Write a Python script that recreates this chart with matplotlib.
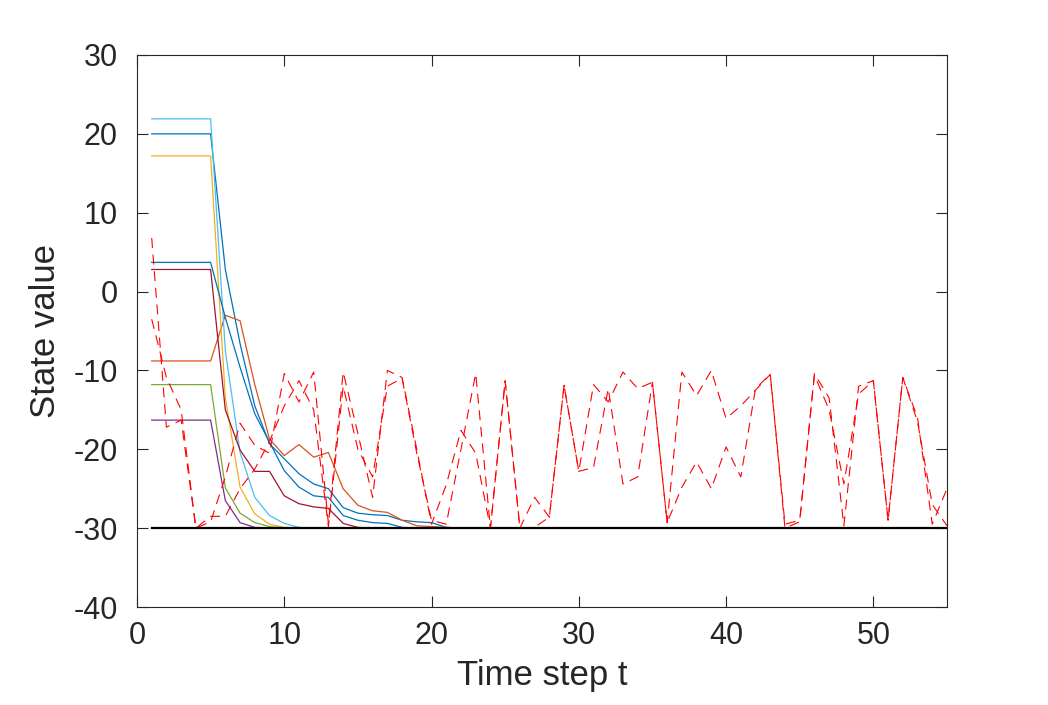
import matplotlib
matplotlib.use("Agg")
import matplotlib.pyplot as plt
import numpy as np

plt.rcParams['font.family'] = ['Liberation Sans', 'DejaVu Sans']
plt.rcParams['axes.unicode_minus'] = False

t = np.arange(1, 56)

# Normal agents (solid), values at t = 1..22 then settle at -30
blue_a = [20.0]*5 + [2.8, -6.6, -14.5, -19.3, -21.2, -23.1, -24.4, -25.0, -27.4, -28.1, -28.3, -28.4, -29.0, -29.2, -29.3, -29.9, -30.0]
orange = [-8.8]*5 + [-3.0, -3.7, -11.8, -18.7, -20.8, -19.4, -21.0, -20.4, -25.0, -27.1, -27.8, -28.0, -29.0, -29.7, -29.8, -29.9, -30.0]
yellow = [17.2]*5 + [-13.5, -24.8, -28.2, -29.5, -29.9, -30.0, -30.0, -30.0, -30.0, -30.0, -30.0, -30.0, -30.0, -30.0, -30.0, -30.0, -30.0]
purple = [-16.3]*5 + [-26.5, -29.3, -29.9, -30.0, -30.0, -30.0, -30.0, -30.0, -30.0, -30.0, -30.0, -30.0, -30.0, -30.0, -30.0, -30.0, -30.0]
green = [-11.8]*5 + [-24.9, -28.1, -29.3, -29.8, -30.0, -30.0, -30.0, -30.0, -30.0, -30.0, -30.0, -30.0, -30.0, -30.0, -30.0, -30.0, -30.0]
lightblue = [21.9]*5 + [-7.5, -20.4, -26.1, -28.4, -29.4, -29.9, -30.0, -30.0, -30.0, -30.0, -30.0, -30.0, -30.0, -30.0, -30.0, -30.0, -30.0]
darkred = [2.8]*5 + [-15.0, -20.1, -22.8, -22.8, -25.9, -26.9, -27.3, -27.5, -29.4, -29.9, -30.0, -30.0, -30.0, -30.0, -30.0, -30.0, -30.0]
blue_b = [3.7]*5 + [-3.3, -9.6, -15.5, -19.1, -22.7, -24.8, -25.9, -26.1, -28.4, -29.0, -29.3, -29.4, -29.9, -30.0, -30.0, -30.0, -30.0]

# Malicious agents (red dashed), t = 1..55
mal_a = [6.8, -17.2, -16.3, -30.0, -29.2, -23.5, -16.7, -19.5, -20.5, -10.4,
         -14.0, -10.2, -29.5, -10.2, -18.0, -26.1, -10.0, -10.9, -20.0, -29.5,
         -24.5, -17.6, -20.5, -30.0, -11.3, -30.0, -26.1, -28.6, -11.9, -22.8,
         -11.8, -14.0, -10.2, -12.3, -11.5, -29.3, -10.2, -13.2, -10.0, -16.1,
         -14.5, -12.5, -10.5, -30.0, -29.2, -10.4, -13.5, -29.7, -12.0, -11.3,
         -29.0, -10.9, -16.0, -29.5, -25.0]
mal_b = [-3.5, -10.9, -15.0, -30.0, -28.5, -28.5, -25.0, -22.5, -19.0, -14.5,
         -11.3, -15.0, -29.8, -12.0, -20.0, -23.5, -12.0, -11.0, -20.5, -29.0,
         -29.5, -20.0, -10.4, -30.0, -11.3, -30.0, -29.9, -28.6, -11.9, -22.8,
         -22.3, -12.3, -24.4, -23.5, -11.5, -29.3, -24.8, -21.6, -25.0, -19.7,
         -23.5, -12.3, -10.5, -29.5, -29.0, -10.6, -15.0, -24.4, -13.0, -11.3,
         -29.0, -10.9, -16.5, -27.0, -29.7]
reference = [-30.0]*55

fig = plt.figure(figsize=(10.48, 7.05), dpi=100)
ax = fig.add_axes([0.1307, 0.139, 0.7729, 0.783])

solid = [
    (blue_a, '#0072BD'), (orange, '#D95319'), (yellow, '#EDB120'), (purple, '#7E2F8E'),
    (green, '#77AC30'), (lightblue, '#4DBEEE'), (darkred, '#A2142F'), (blue_b, '#0072BD'),
]
for vals, col in solid:
    v = list(vals) + [-30.0]*(55 - len(vals))
    ax.plot(t, v, color=col, lw=0.9)

for vals in (mal_a, mal_b):
    ax.plot(t, vals, color='#FF0000', lw=0.8, linestyle=(0, (9, 6)))

ax.plot(t, reference, color='black', lw=1.6)

ax.set_xlim(0, 55)
ax.set_ylim(-40, 30)
ax.set_xticks([0, 10, 20, 30, 40, 50])
ax.set_yticks([-40, -30, -20, -10, 0, 10, 20, 30])
dark = '#262626'
ax.tick_params(direction='in', length=8, width=0.8, top=True, right=True,
               labelsize=22, colors=dark)
ax.tick_params(axis='x', pad=10)
ax.tick_params(axis='y', pad=14)
for s in ax.spines.values():
    s.set_color(dark)
    s.set_linewidth(0.8)
ax.set_xlabel('Time step t', fontsize=25, color=dark, labelpad=6)
ax.set_ylabel('State value', fontsize=25, color=dark, labelpad=8)

fig.savefig('out.png', dpi=100)
